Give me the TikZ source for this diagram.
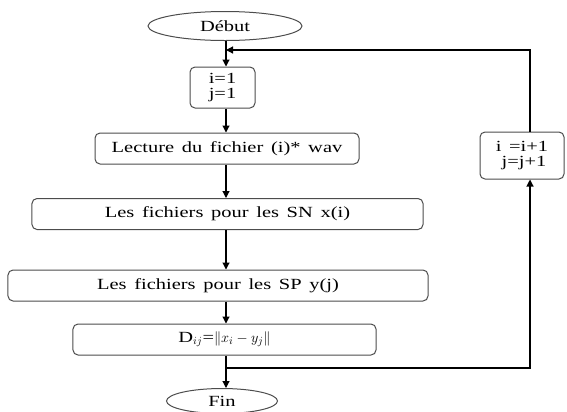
\documentclass[tikz,border=0pt]{standalone}
\usepackage{fontspec}
\setmainfont[FakeStretch=1.32,WordSpace=1.5]{Liberation Serif}
\usetikzlibrary{shapes.geometric,arrows.meta}
\begin{document}
\begin{tikzpicture}[x=1bp,y=-1bp,
  every node/.style={font=\fontsize{15.5bp}{15bp}\selectfont, inner sep=0pt, text=black},
  box/.style={draw=black!70, line width=1bp, rounded corners=5bp, align=center},
  oval/.style={draw=black!70, line width=1bp, ellipse},
  conn/.style={line width=1.1bp, draw=black},
  arr/.style={conn, -{Triangle[length=7bp,width=7bp]}}]
\useasboundingbox (0,0) rectangle (567,411);
\node[oval, minimum width=154bp, minimum height=29bp] (debut) at (225,26) {Début};
\node[box, minimum width=65bp, minimum height=41bp] (init) at (222.5,87.5) {i=1\\j=1};
\node[box, minimum width=264bp, minimum height=31bp] (lect) at (227,148.5) {Lecture du fichier (i)* wav};
\node[box, minimum width=391bp, minimum height=31bp] (sn) at (227.5,214) {Les fichiers pour les SN x(i)};
\node[box, minimum width=420bp, minimum height=31bp] (sp) at (218,285.5) {Les fichiers pour les SP y(j)};
\node[box, minimum width=303bp, minimum height=31bp] (dist) at (224.5,339.5) {D$_{ij}$=$\|x_i - y_j\|$};
\node[oval, minimum width=111bp, minimum height=25bp] (fin) at (222,401) {Fin};
\node[box, minimum width=84bp, minimum height=47bp] (loop) at (522,155.5) {i =i+1\\\hspace{4bp}j=j+1};
\coordinate (m) at (226,0);
\coordinate (tr) at (530,50);
\coordinate (tl) at (226,50);
\coordinate (br) at (530,368);
\coordinate (bl) at (226,368);
\draw[arr] (debut.south -| m) -- (init.north -| m);
\draw[arr] (init.south -| m) -- (lect.north -| m);
\draw[arr] (lect.south -| m) -- (sn.north -| m);
\draw[arr] (sn.south -| m) -- (sp.north -| m);
\draw[arr] (sp.south -| m) -- (dist.north -| m);
\draw[arr] (dist.south -| m) -- (fin.north -| m);
\draw[arr] (loop.north -| tr) -- (tr) -- (tl);
\draw[arr] (bl) -- (br) -- (loop.south -| br);
\end{tikzpicture}
\end{document}
